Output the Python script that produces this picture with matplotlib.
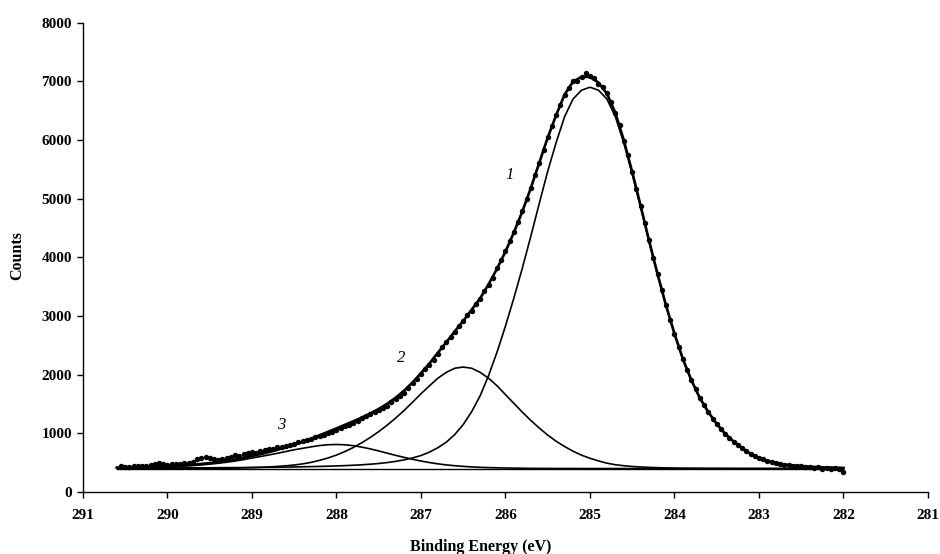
# -*- coding: utf-8 -*-
"""
xps_c1s_fit.py - C1s 高分辨 XPS 谱的分峰拟合图

1. 实测数据点 (黑点)
2. 三个拟合分峰 1/2/3 + 线性背景
3. 拟合包络线
"""

import numpy as np
import matplotlib
matplotlib.use('Agg')
import matplotlib.pyplot as plt

plt.rcParams['font.family'] = ['Liberation Serif', 'DejaVu Serif']

# 拟合曲线的能量网格 (eV)，步长 0.1 eV
energy_fit = np.round(np.arange(290.6, 281.95, -0.1), 2)
# 实测数据的能量网格 (eV)，步长 0.05 eV
energy_data = np.round(np.arange(290.55, 281.975, -0.05), 2)

# 背景水平 (counts)
baseline_level = 400

# 分峰 1 (285.0 eV) 高出背景的强度
peak1_height = [
    6, 7, 7, 8, 8, 9, 9, 10, 10, 11,
    12, 13, 14, 15, 16, 17, 18, 19, 21, 23,
    25, 27, 30, 33, 36, 40, 44, 50, 56, 64,
    74, 86, 102, 122, 148, 180, 222, 280, 355, 450,
    580, 750, 970, 1240, 1585, 1985, 2430, 2910, 3420, 3960,
    4520, 5070, 5560, 6000, 6300, 6450, 6500, 6450, 6300, 6000,
    5550, 5020, 4450, 3860, 3300, 2770, 2290, 1860, 1500, 1200,
    960, 760, 590, 460, 350, 250, 180, 130, 95, 70,
    52, 40, 30, 23, 18, 14, 11,
]

# 分峰 2 (286.5 eV)
peak2_height = [
    1, 1, 1, 1, 1, 1, 2, 2, 3, 3,
    4, 5, 6, 7, 9, 12, 16, 21, 28, 36,
    47, 60, 80, 105, 140, 180, 230, 290, 360, 440,
    530, 630, 740, 860, 990, 1130, 1275, 1410, 1540, 1640,
    1710, 1730, 1710, 1640, 1540, 1410, 1260, 1110, 960, 820,
    690, 570, 465, 375, 295, 228, 175, 130, 92, 65,
    48, 35, 27, 20, 15, 11, 8, 6, 5, 4,
    3, 2, 2, 1, 1, 1, 0, 0, 0, 0,
    0, 0, 0, 0, 0, 0, 0,
]

# 分峰 3 (288.0 eV)
peak3_height = [
    10, 12, 14, 17, 20, 24, 29, 35, 42, 51,
    62, 75, 90, 108, 128, 152, 180, 205, 232, 260,
    290, 320, 345, 370, 392, 406, 410, 405, 390, 365,
    335, 300, 262, 225, 190, 158, 128, 102, 80, 62,
    48, 37, 28, 21, 16, 12, 9, 7, 5, 3,
    2, 2, 1, 1, 1, 0, 0, 0, 0, 0,
    0, 0, 0, 0, 0, 0, 0, 0, 0, 0,
    0, 0, 0, 0, 0, 0, 0, 0, 0, 0,
    0, 0, 0, 0, 0, 0, 0,
]

# 实测计数
counts_data = [
    440, 432, 428, 436, 442, 450, 446, 455, 470, 490,
    478, 466, 472, 470, 478, 486, 500, 520, 560, 575,
    590, 582, 560, 552, 570, 585, 600, 625, 610, 640,
    660, 680, 672, 700, 712, 730, 738, 760, 772, 790,
    808, 826, 850, 868, 885, 912, 930, 955, 980, 1010,
    1030, 1060, 1085, 1120, 1140, 1175, 1210, 1260, 1290, 1330,
    1365, 1400, 1430, 1470, 1530, 1590, 1640, 1690, 1770, 1850,
    1930, 2010, 2090, 2170, 2250, 2360, 2470, 2560, 2640, 2720,
    2830, 2920, 3010, 3080, 3200, 3290, 3420, 3530, 3650, 3820,
    3960, 4100, 4280, 4440, 4610, 4790, 4990, 5180, 5410, 5610,
    5830, 6050, 6240, 6420, 6600, 6760, 6880, 7000, 7010, 7080,
    7150, 7100, 7060, 6960, 6900, 6800, 6640, 6460, 6250, 5990,
    5740, 5460, 5170, 4880, 4580, 4290, 3990, 3720, 3440, 3180,
    2930, 2700, 2480, 2270, 2080, 1910, 1750, 1600, 1480, 1370,
    1250, 1160, 1070, 990, 920, 860, 800, 750, 700, 650,
    610, 580, 560, 525, 505, 495, 470, 468, 455, 450,
    438, 440, 425, 430, 410, 420, 400, 412, 395, 405,
    390, 340,
]

x_ticks = [291, 290, 289, 288, 287, 286, 285, 284, 283, 282, 281]
y_ticks = [0, 1000, 2000, 3000, 4000, 5000, 6000, 7000, 8000]


def plot_c1s(output_path):
    """绘制 C1s 分峰拟合图"""
    fig = plt.figure(figsize=(9.4, 5.54), dpi=100)
    ax = fig.add_axes([0.0883, 0.1119, 0.8989, 0.8471])

    bg = np.full(len(energy_fit), baseline_level, dtype=float)
    p1 = bg + np.array(peak1_height)
    p2 = bg + np.array(peak2_height)
    p3 = bg + np.array(peak3_height)
    envelope = bg + np.array(peak1_height) + np.array(peak2_height) + np.array(peak3_height)

    # 背景与分峰
    ax.plot(energy_fit, bg, color='black', lw=1.0)
    for comp in (p1, p2, p3):
        ax.plot(energy_fit, comp, color='black', lw=1.2)
    # 包络线
    ax.plot(energy_fit, envelope, color='black', lw=1.9)
    # 数据点
    ax.plot(energy_data, counts_data, 'o', color='black', ms=3.9, mew=0)

    # 峰编号
    for label, (ex, ey) in zip(['1', '2', '3'],
                               [(285.95, 5400), (287.23, 2290), (288.65, 1140)]):
        ax.text(ex, ey, label, fontsize=12, fontstyle='italic',
                ha='center', va='center')

    ax.set_xlim(291, 281)
    ax.set_ylim(0, 8000)
    ax.set_xticks(x_ticks)
    ax.set_yticks(y_ticks)
    ax.set_xticklabels([str(t) for t in x_ticks], fontsize=11, fontweight='bold')
    ax.set_yticklabels([str(t) for t in y_ticks], fontsize=11, fontweight='bold')
    ax.tick_params(axis='x', direction='out', length=4, width=1, pad=8)
    ax.tick_params(axis='y', direction='out', length=4, width=1, pad=4)

    for side in ('top', 'right'):
        ax.spines[side].set_visible(False)
    for side in ('left', 'bottom'):
        ax.spines[side].set_linewidth(1.0)

    fig.text(0.018, 0.538, 'Counts', rotation=90, fontsize=11.5,
             fontweight='bold', ha='center', va='center')
    fig.text(0.511, 0.013, 'Binding Energy (eV)', fontsize=11.5,
             fontweight='bold', ha='center', va='center')

    fig.savefig(output_path, dpi=100)
    plt.close(fig)


def main():
    assert len(peak1_height) == len(energy_fit)
    assert len(counts_data) == len(energy_data)
    plot_c1s('out.png')


if __name__ == "__main__":
    main()
